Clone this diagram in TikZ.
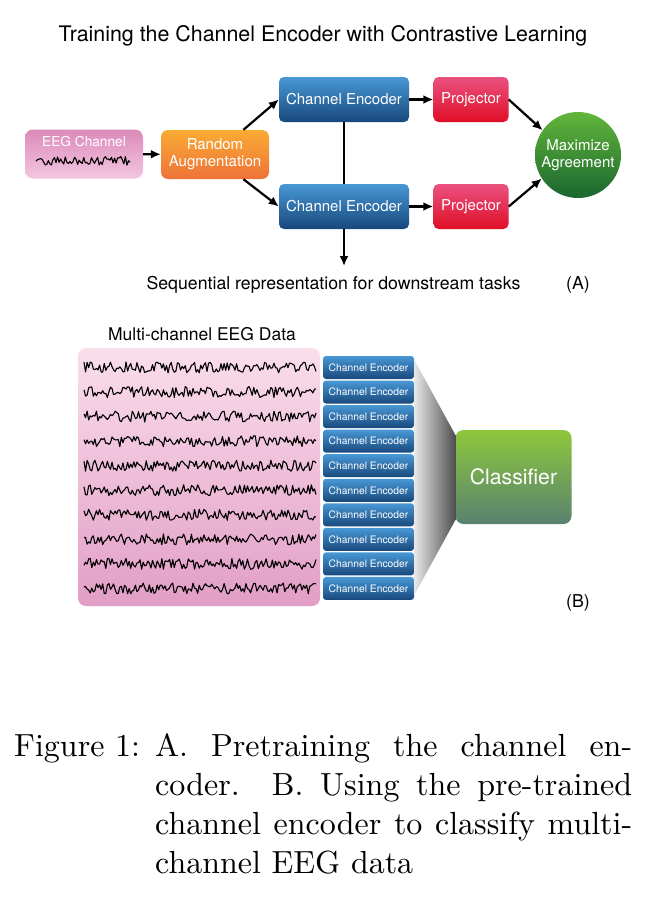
\documentclass[tikz,border=0pt]{standalone}
\usepackage{fontspec}
\setsansfont{TeX Gyre Heros}
\newfontfamily\capfont{lmroman10-regular.otf}
\usetikzlibrary{arrows.meta}
\definecolor{encodertop}{RGB}{72, 152, 214}
\definecolor{encoderbot}{RGB}{24, 72, 124}
\definecolor{projtop}{RGB}{234, 82, 128}
\definecolor{projbot}{RGB}{224, 14, 38}
\definecolor{augtop}{RGB}{249, 172, 52}
\definecolor{augbot}{RGB}{238, 114, 56}
\definecolor{eegtop}{RGB}{220, 138, 186}
\definecolor{eegbot}{RGB}{243, 198, 224}
\definecolor{agreetop}{RGB}{98, 182, 58}
\definecolor{agreebot}{RGB}{26, 102, 48}
\definecolor{datatop}{RGB}{250, 222, 235}
\definecolor{databot}{RGB}{226, 158, 198}
\definecolor{clstop}{RGB}{142, 199, 60}
\definecolor{clsbot}{RGB}{88, 130, 112}
\definecolor{funnelleft}{RGB}{232, 232, 232}
\definecolor{funnelright}{RGB}{78, 78, 78}

\begin{document}
\begin{tikzpicture}[x=1pt, y=-1pt, font=\sffamily,
    encbox/.style={rectangle, rounded corners=5pt, top color=encodertop, bottom color=encoderbot,
        text=white, minimum width=130pt, minimum height=45pt, inner sep=0pt,
        font=\sffamily\fontsize{15}{18}\selectfont},
    smallenc/.style={encbox, rounded corners=3pt, minimum width=91pt, minimum height=23pt,
        font=\sffamily\fontsize{10.3}{12}\selectfont},
    projbox/.style={encbox, top color=projtop, bottom color=projbot, minimum width=75pt},
    augbox/.style={encbox, top color=augtop, bottom color=augbot, minimum width=108pt,
        minimum height=49pt, rounded corners=7pt, align=center,
        font=\sffamily\fontsize{15}{17}\selectfont},
    flowarrow/.style={-{Latex[length=10pt,width=9pt]}, line width=2.2pt},
    wave/.style={line width=1.1pt, line join=round}]

    % canvas
    \fill[white] (0,0) rectangle (664,900);
    \useasboundingbox (0,0) rectangle (664,900);

    % (A) pretraining with two augmented views
    \node[font=\sffamily\fontsize{21.4}{25}\selectfont] (titleA) at (323,36)
        {Training the Channel Encoder with Contrastive Learning};

    \node[rectangle, rounded corners=8pt, top color=eegtop, bottom color=eegbot,
        minimum width=118pt, minimum height=49pt] (eeg) at (84,154) {};
    \node[text=white, font=\sffamily\fontsize{13.7}{16}\selectfont] (eeglabel) at (84,142) {EEG Channel};
    \pgfmathsetseed{11}
    \draw[wave] plot[domain=36:130, samples=62] (\x, {161+4.8*rand});

    \node[augbox] (aug) at (215,154.5) {Random\\Augmentation};
    \node[encbox] (encA) at (344,99.5) {Channel Encoder};
    \node[encbox] (encB) at (344,206.5) {Channel Encoder};
    \node[projbox] (projA) at (471,99.5) {Projector};
    \node[projbox] (projB) at (471,206.5) {Projector};
    \node[circle, top color=agreetop, bottom color=agreebot, text=white, minimum size=86pt,
        inner sep=0pt, align=center, font=\sffamily\fontsize{15}{17}\selectfont] (agree) at (578,155)
        {Maximize\\Agreement};
    \coordinate (down) at (344,266);

    \draw[flowarrow] (eeg) -- (aug);
    \draw[flowarrow] (aug.41) -- (encA.west);
    \draw[flowarrow] (aug.-41) -- (encB.west);
    \draw[flowarrow] (encA) -- (projA);
    \draw[flowarrow] (encB) -- (projB);
    \draw[flowarrow] (projA.east) -- (agree.145);
    \draw[flowarrow] (projB.east) -- (agree.213);
    \draw[line width=2.2pt] (encA.south) -- (encB.north);
    \draw[flowarrow] (encB.south) -- (down);

    \node[font=\sffamily\fontsize{17.7}{21}\selectfont] (downtext) at (333.5,285)
        {Sequential representation for downstream tasks};
    \node[font=\sffamily\fontsize{17.7}{21}\selectfont] (labelA) at (578,285) {(A)};

    % (B) classifying multi-channel data
    \node[font=\sffamily\fontsize{17.5}{21}\selectfont] (titleB) at (202,334) {Multi-channel EEG Data};
    \node[rectangle, rounded corners=8pt, top color=datatop, bottom color=databot,
        minimum width=242pt, minimum height=258pt] (data) at (199,477) {};

    \foreach \i in {1,...,10} {
        \node[smallenc] (enc\i) at (368.5, {367.5+24.55*(\i-1)}) {Channel Encoder};
        \draw[wave] plot[domain=84:316, samples=150] (\x, {367.5+24.55*(\i-1)+5.5*rand});
    }

    \node[rectangle, rounded corners=8pt, top color=clstop, bottom color=clsbot, text=white,
        minimum width=116pt, minimum height=94pt,
        font=\sffamily\fontsize{21.2}{25}\selectfont] (cls) at (513.5,477) {Classifier};
    \shade[left color=funnelleft, right color=funnelright]
        ([yshift=-4pt]enc1.north east) -- ([yshift=-5pt]cls.north west)
        -- ([yshift=4pt]cls.south west) -- ([yshift=5pt]enc10.south east) -- cycle;

    \node[font=\sffamily\fontsize{17.7}{21}\selectfont] (labelB) at (578,603) {(B)};

    % caption
    \node[anchor=base west, inner sep=0pt, font=\capfont\fontsize{32}{39}\selectfont] (caption) at (14,756)
        {\makebox[141pt][l]{Figure 1:}\parbox[t]{477pt}{A. Pretraining the channel en-\linebreak
        coder. B. Using the pre-trained\linebreak channel encoder to classify multi-\linebreak
        channel EEG data}};
\end{tikzpicture}
\end{document}
